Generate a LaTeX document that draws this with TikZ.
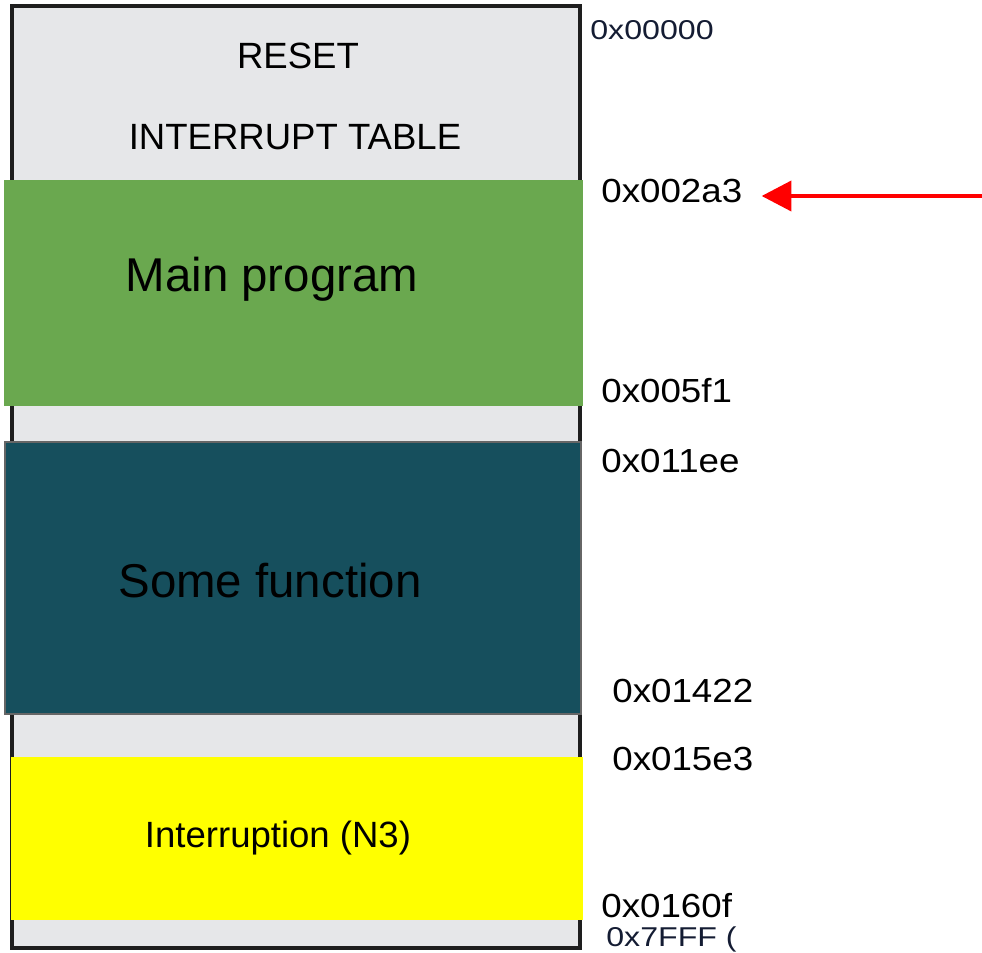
\documentclass[tikz,border=0pt]{standalone}
\usepackage{fontspec}
\setmainfont{Liberation Sans}
\usetikzlibrary{arrows.meta}
\definecolor{memgray}{HTML}{E6E7E9}
\definecolor{memgreen}{HTML}{6AA84F}
\definecolor{memteal}{HTML}{164F5D}
\definecolor{memyellow}{HTML}{FFFF00}
\definecolor{memred}{HTML}{FF0000}
\definecolor{memborder}{HTML}{1E1E1E}
\definecolor{tealborder}{HTML}{666666}
\definecolor{addrnavy}{HTML}{141C33}
\tikzset{
  bigtxt/.style={inner sep=0pt, font=\fontsize{27pt}{30pt}\selectfont, text=black},
  midtxt/.style={inner sep=0pt, font=\fontsize{20.8pt}{24pt}\selectfont, text=black},
  addr/.style={inner sep=0pt, anchor=base west, font=\fontsize{19pt}{22pt}\selectfont, text=black},
  addrsmall/.style={inner sep=0pt, anchor=base west, font=\fontsize{15.5pt}{18pt}\selectfont, text=addrnavy},
  redarrow/.style={draw=memred, line width=2.6pt, -{Triangle[length=17pt,width=17pt]}}
}
\newcommand{\wid}[1]{\scalebox{1.1}[1]{#1}}
\begin{document}
\begin{tikzpicture}[x=0.02cm,y=-0.02cm]
\useasboundingbox (0,0) rectangle (982,952);
% outer memory block
\draw[fill=memgray, draw=memborder, line width=1.9pt] (12,6) rectangle (580,948);
% regions
\fill[memgreen] (4,180) rectangle (583,406);
\draw[fill=memteal, draw=tealborder, line width=1.3pt] (5,442) rectangle (581,714);
\fill[memyellow] (11,757) rectangle (583,920);
% texts
\node[midtxt, anchor=base] (reset) at (298,69) {RESET};
\node[midtxt, anchor=base] (itab) at (295,150) {INTERRUPT TABLE};
\node[bigtxt, anchor=base] (mainp) at (272,292) {Main program};
\node[bigtxt, anchor=base] (somef) at (270,597) {Some function};
\node[midtxt, anchor=base] (intr) at (278,847) {Interruption (N3)};
% addresses
\node[addrsmall] (l0) at (590,40) {\scalebox{1.18}[1]{0x00000}};
\node[addr] (l1) at (601,203) {\wid{0x002a3}};
\node[addr] (l2) at (601,402) {\wid{0x005f1}};
\node[addr] (l3) at (601,472) {\wid{0x011ee}};
\node[addr] (l4) at (612,702) {\wid{0x01422}};
\node[addr] (l5) at (612,770) {\wid{0x015e3}};
\node[addr] (l6) at (601,917) {\wid{0x0160f}};
\node[addrsmall] (l7) at (606,946) {\scalebox{1.18}[1]{0x7FFF (}};
% arrow
\coordinate (src) at (982,196);
\draw[redarrow] (src) -- ([xshift=19*0.02cm]l1.east |- src);
\end{tikzpicture}
\end{document}
